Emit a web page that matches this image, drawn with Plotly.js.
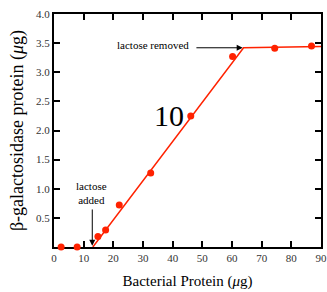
<!DOCTYPE html>
<html><head><meta charset="utf-8">
<script src="https://cdn.plot.ly/plotly-3.0.1.min.js"></script>
<style>html,body{margin:0;padding:0;background:#fff}#c{width:327px;height:292px}</style>
</head><body><div id="c"></div>
<script>
// measured points
var pointX = [2.4, 7.8, 14.8, 17.4, 22.0, 32.6, 46.1, 60.2, 74.4, 86.8];
var pointY = [0.0, 0.0, 0.18, 0.29, 0.72, 1.27, 2.25, 3.27, 3.41, 3.45];
// fitted line
var lineX = [13.1, 63.9, 90];
var lineY = [0.0, 3.42, 3.44];
var xTicks = [0, 10, 20, 30, 40, 50, 60, 70, 80, 90];
var yTicks = [0.5, 1.0, 1.5, 2.0, 2.5, 3.0, 3.5, 4.0];
var yTickText = ["0.5", "1.0", "1.5", "2.0", "2.5", "3.0", "3.5", "4.0"];

var F = "Liberation Serif, Times New Roman, serif";
var red = "#ff2200";
var traces = [
  {x: lineX, y: lineY, mode: "lines", line: {color: red, width: 1.5}, hoverinfo: "skip"},
  {x: pointX, y: pointY, mode: "markers", marker: {color: red, size: 7}, cliponaxis: false}
];
var axisCommon = {showgrid: false, zeroline: false, showline: true, linecolor: "#000", linewidth: 2,
  mirror: "ticks", ticks: "inside", ticklen: 6, tickwidth: 2, tickcolor: "#000", layer: "below traces",
  tickfont: {family: F, size: 11, color: "#333"}};
var layout = {
  width: 327, height: 292,
  margin: {l: 54, r: 6, t: 14, b: 45},
  paper_bgcolor: "#fff", plot_bgcolor: "#fff",
  showlegend: false,
  font: {family: F, color: "#000"},
  xaxis: Object.assign({}, axisCommon, {range: [0, 90], tickvals: xTicks,
    title: {text: "Bacterial Protein (<i>μ</i>g)", font: {family: F, size: 15, color: "#000"}, standoff: 12}}),
  yaxis: Object.assign({}, axisCommon, {range: [0, 4.0], tickvals: yTicks, ticktext: yTickText,
    title: {text: "β-galactosidase protein (<i>μ</i>g)", font: {family: F, size: 18, color: "#000"}, standoff: 8}}),
  annotations: [
    {x: 33.5, y: 3.47, xref: "x", yref: "y", text: "lactose removed", showarrow: false,
      font: {family: F, size: 11, color: "#000"}},
    {x: 63.6, y: 3.42, ax: 47.5, ay: 3.42, axref: "x", ayref: "y", xref: "x", yref: "y", text: "",
      showarrow: true, arrowhead: 2, arrowsize: 1.2, arrowwidth: 1, arrowcolor: "#000"},
    {x: 12.5, y: 0.92, xref: "x", yref: "y", text: "lactose<br>added", showarrow: false,
      font: {family: F, size: 11, color: "#000"}},
    {x: 12.9, y: 0.02, ax: 12.9, ay: 0.67, axref: "x", ayref: "y", xref: "x", yref: "y", text: "",
      showarrow: true, arrowhead: 2, arrowsize: 1.2, arrowwidth: 1, arrowcolor: "#000"},
    {x: 38.9, y: 2.25, xref: "x", yref: "y", text: "10", showarrow: false,
      font: {family: F, size: 30, color: "#000"}}
  ]
};
Plotly.newPlot("c", traces, layout, {displayModeBar: false, staticPlot: true});
</script></body></html>
